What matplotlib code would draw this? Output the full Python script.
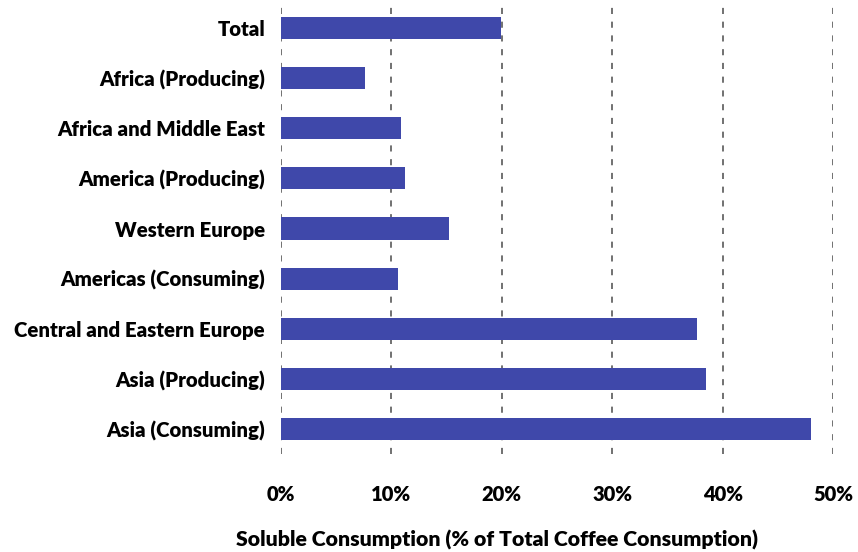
import matplotlib
matplotlib.use("Agg")
from matplotlib import pyplot as plt

# Daten
regionen = ["Total", "Africa (Producing)", "Africa and Middle East", "America (Producing)",
            "Western Europe", "Americas (Consuming)", "Central and Eastern Europe",
            "Asia (Producing)", "Asia (Consuming)"]
anteil = [19.9, 7.6, 10.9, 11.2, 15.2, 10.6, 37.7, 38.5, 48.0]
ticks = [0, 10, 20, 30, 40, 50]
tick_labels = ["0%", "10%", "20%", "30%", "40%", "50%"]

plt.rcParams['font.family'] = ['Lato', 'DejaVu Sans']

fig = plt.figure(figsize=(8.58, 5.52), dpi=100)
ax = fig.add_axes([281 / 858, 1 - 454 / 552, (833 - 281) / 858, 451 / 552])

pos = range(len(regionen))
ax.barh(pos, anteil, height=0.44, color="#3F48AA", zorder=2)
ax.set_ylim(len(regionen) - 0.5, -0.5)
ax.set_xlim(0, 50)
ax.set_yticks(list(pos))
ax.set_yticklabels(regionen, fontsize=14.7, fontweight="heavy")
ax.set_xticks(ticks)
ax.set_xticklabels(tick_labels, fontsize=14.5, fontweight="heavy")
ax.tick_params(axis="both", length=0)
ax.tick_params(axis="y", pad=11.5)
ax.tick_params(axis="x", pad=22)
ax.xaxis.grid(True, linestyle=(0, (4, 5)), color="#4a4a4a", linewidth=1.1, zorder=1)
for s in ax.spines.values():
    s.set_visible(False)

fig.text(497 / 858, 1 - 540 / 552, "Soluble Consumption (% of Total Coffee Consumption)",
         ha="center", va="center", fontsize=15.3, fontweight="heavy")

fig.savefig("out.png", dpi=100)
